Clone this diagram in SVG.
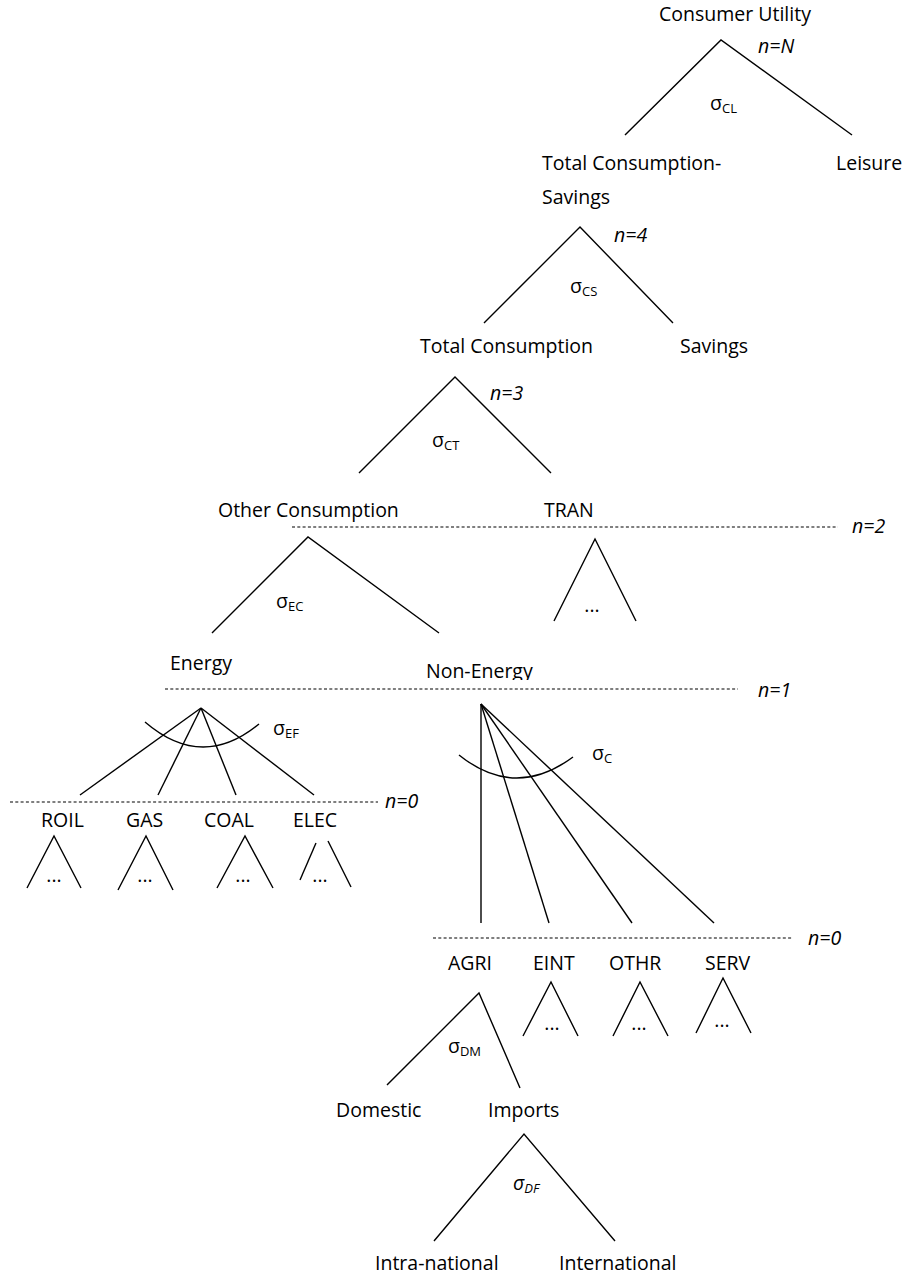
<svg xmlns="http://www.w3.org/2000/svg" width="916" height="1279" viewBox="0 0 916 1279">
<style>
text{font-family:"Open Sans","Liberation Sans",sans-serif;font-size:19.5px;fill:#000}
.n{font-style:italic}
.sub{font-size:13px}
.line{stroke:#000;stroke-width:1.4;fill:none}
.dash{stroke:#000;stroke-width:1.1;stroke-dasharray:3 2.3;fill:none}
.dots{text-anchor:middle}
</style>
<defs>
<clipPath id="clipNE"><rect x="400" y="640" width="200" height="40"/></clipPath>
</defs>
<g id="connectors">
<polyline class="line" points="625,135 721,40 852,135"/>
<polyline class="line" points="484,323 580,227 673,323"/>
<polyline class="line" points="359,473 455,377 551,473"/>
<polyline class="line" points="212,633 308,537 439,633"/>
<polyline class="line" points="554,621 595,539 636,621"/>
<line class="dash" x1="292" y1="527" x2="838" y2="527"/>
<line class="dash" x1="165" y1="689" x2="738" y2="689"/>
<line class="dash" x1="10" y1="802" x2="378" y2="802"/>
<line class="dash" x1="433" y1="938" x2="793" y2="938"/>
<g id="energy-fan">
<line class="line" x1="201" y1="708" x2="80" y2="795"/>
<line class="line" x1="201" y1="708" x2="158" y2="795"/>
<line class="line" x1="201" y1="708" x2="236" y2="795"/>
<line class="line" x1="201" y1="708" x2="314" y2="795"/>
<path class="line" d="M145,722 Q202,771 259,724"/>
</g>
<g id="nonenergy-fan">
<line class="line" x1="481" y1="704" x2="481" y2="923"/>
<line class="line" x1="481" y1="704" x2="549" y2="923"/>
<line class="line" x1="481" y1="704" x2="632" y2="923"/>
<line class="line" x1="481" y1="704" x2="714" y2="923"/>
<path class="line" d="M459,755 Q515,800 573,757"/>
</g>
<polyline class="line" points="27,888 54,836 81,888"/>
<polyline class="line" points="118,890 146,836 173,890"/>
<polyline class="line" points="217,888 245,836 273,888"/>
<line class="line" x1="316" y1="843" x2="300" y2="880"/>
<line class="line" x1="328" y1="841" x2="351" y2="887"/>
<polyline class="line" points="523,1036 551,982 578,1036"/>
<polyline class="line" points="613,1036 640,982 668,1036"/>
<polyline class="line" points="696,1033 723,978 751,1033"/>
<polyline class="line" points="387,1085 479,993 520,1088"/>
<polyline class="line" points="434,1241 524,1134 615,1241"/>
</g>
<g id="level-labels">
<text class="n" x="758" y="53">n=N</text>
<text class="n" x="614" y="242">n=4</text>
<text class="n" x="490" y="400">n=3</text>
<text class="n" x="852" y="533">n=2</text>
<text class="n" x="758" y="697">n=1</text>
<text class="n" x="385" y="808">n=0</text>
<text class="n" x="808" y="945">n=0</text>
</g>
<g id="sigmas">
<text x="710" y="110">σ<tspan class="sub" dy="3">CL</tspan></text>
<text x="570" y="293">σ<tspan class="sub" dy="3">CS</tspan></text>
<text x="432" y="447">σ<tspan class="sub" dy="3">CT</tspan></text>
<text x="276" y="608">σ<tspan class="sub" dy="3">EC</tspan></text>
<text x="273" y="735">σ<tspan class="sub" dy="3">EF</tspan></text>
<text x="592" y="760">σ<tspan class="sub" dy="3">C</tspan></text>
<text x="448" y="1053">σ<tspan class="sub" dy="3">DM</tspan></text>
<text class="n" x="513" y="1190">σ<tspan class="sub" dy="3">DF</tspan></text>
</g>
<g id="node-consumer-utility"><text x="659" y="21">Consumer Utility</text></g>
<g id="node-total-consumption-savings"><text x="542" y="170">Total Consumption-</text><text x="542" y="204">Savings</text></g>
<g id="node-leisure"><text x="836" y="170">Leisure</text></g>
<g id="node-total-consumption"><text x="420" y="353">Total Consumption</text></g>
<g id="node-savings"><text x="680" y="353">Savings</text></g>
<g id="node-other-consumption"><text x="218" y="517">Other Consumption</text></g>
<g id="node-tran"><text x="544" y="517">TRAN</text><text class="dots" x="592" y="612">...</text></g>
<g id="node-energy"><text x="170" y="670">Energy</text></g>
<g id="node-non-energy"><text x="426" y="678" clip-path="url(#clipNE)">Non-Energy</text></g>
<g id="node-roil"><text x="41" y="827">ROIL</text><text class="dots" x="54" y="882">...</text></g>
<g id="node-gas"><text x="126" y="827">GAS</text><text class="dots" x="145" y="882">...</text></g>
<g id="node-coal"><text x="204" y="827">COAL</text><text class="dots" x="243" y="882">...</text></g>
<g id="node-elec"><text x="293" y="827">ELEC</text><text class="dots" x="320" y="882">...</text></g>
<g id="node-agri"><text x="448" y="970">AGRI</text></g>
<g id="node-eint"><text x="533" y="970">EINT</text><text class="dots" x="552" y="1030">...</text></g>
<g id="node-othr"><text x="609" y="970">OTHR</text><text class="dots" x="639" y="1030">...</text></g>
<g id="node-serv"><text x="705" y="970">SERV</text><text class="dots" x="722" y="1027">...</text></g>
<g id="node-domestic"><text x="336" y="1117">Domestic</text></g>
<g id="node-imports"><text x="488" y="1117">Imports</text></g>
<g id="node-intra-national"><text x="375" y="1270">Intra-national</text></g>
<g id="node-international"><text x="559" y="1270">International</text></g>
</svg>
